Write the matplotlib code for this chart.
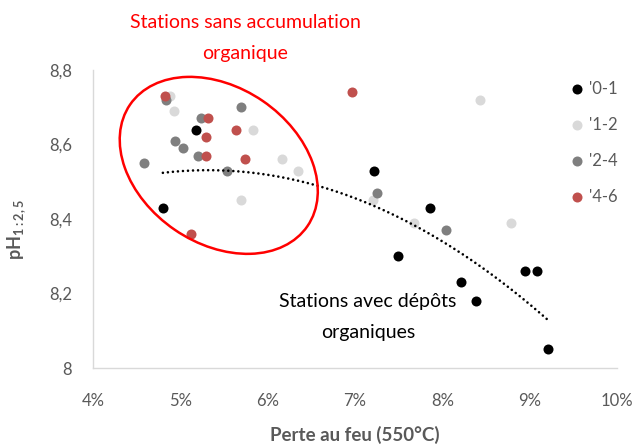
import matplotlib
matplotlib.use("Agg")
import matplotlib.pyplot as plt
import matplotlib.transforms as transforms
from matplotlib.patches import Ellipse
from matplotlib.ticker import FuncFormatter, MultipleLocator
import numpy as np

plt.rcParams["font.family"] = ["Lato", "DejaVu Sans"]
plt.rcParams["mathtext.fontset"] = "custom"
plt.rcParams["mathtext.rm"] = "Lato"
plt.rcParams["mathtext.bf"] = "Lato:bold"

# Perte au feu (%) et pH par classe de profondeur
x_01 = [5.18, 4.80, 7.22, 7.86, 7.49, 8.21, 8.38, 8.95, 9.08, 9.21]
y_01 = [8.64, 8.43, 8.53, 8.43, 8.30, 8.23, 8.18, 8.26, 8.26, 8.05]

x_12 = [4.88, 4.93, 5.83, 6.16, 6.35, 5.69, 8.43, 7.21, 7.68, 8.79]
y_12 = [8.73, 8.69, 8.64, 8.56, 8.53, 8.45, 8.72, 8.45, 8.39, 8.39]

x_24 = [4.84, 5.24, 5.70, 4.94, 5.03, 5.20, 4.58, 5.53, 7.25, 8.04]
y_24 = [8.72, 8.67, 8.70, 8.61, 8.59, 8.57, 8.55, 8.53, 8.47, 8.37]

x_46 = [4.82, 5.32, 5.64, 5.29, 5.29, 5.74, 5.12, 6.96]
y_46 = [8.73, 8.67, 8.64, 8.62, 8.57, 8.56, 8.36, 8.74]

series = [
    ("'0-1", x_01, y_01, "#000000"),
    ("'1-2", x_12, y_12, "#D9D9D9"),
    ("'2-4", x_24, y_24, "#7F7F7F"),
    ("'4-6", x_46, y_46, "#C0504D"),
]

fig = plt.figure(figsize=(6.37, 4.45), dpi=100)
ax = fig.add_axes([0.146, 0.173, 0.8226, 0.6697])

for label, xs, ys, color in series:
    ax.scatter(xs, ys, s=52, color=color, label=label, zorder=3, linewidths=0)

# polynomial trend (order 2) on the 0-1 series
coef = np.polyfit(x_01, y_01, 2)
xt = np.linspace(min(x_01), max(x_01), 200)
ax.plot(xt, np.polyval(coef, xt), color="black", lw=1.9,
        linestyle=(0, (0.01, 1.9)), dash_capstyle="round", zorder=4)

# ellipse around stations without organic accumulation (sized in inches)
ell_tr = fig.dpi_scale_trans + transforms.ScaledTranslation(5.44, 8.544, ax.transData)
ax.add_patch(Ellipse((0, 0), 2.15, 1.56, angle=-34.4, fill=False,
                     edgecolor="#FF0000", lw=1.8, transform=ell_tr, zorder=5))

ax.set_xlim(4, 10)
ax.set_ylim(8, 8.8)
ax.xaxis.set_major_locator(MultipleLocator(1))
ax.yaxis.set_major_locator(MultipleLocator(0.2))
ax.xaxis.set_major_formatter(FuncFormatter(lambda v, _: f"{v:.0f}%"))
ax.yaxis.set_major_formatter(
    FuncFormatter(lambda v, _: "8" if abs(v - 8) < 1e-9 else f"{v:.1f}".replace(".", ",")))

for side in ("top", "right"):
    ax.spines[side].set_visible(False)
for side in ("left", "bottom"):
    ax.spines[side].set_color("#D9D9D9")
    ax.spines[side].set_linewidth(1)
ax.tick_params(length=0, labelsize=12, colors="#595959", pad=18)
ax.tick_params(axis="y", pad=15)

ax.set_xlabel("Perte au feu (550°C)", fontsize=13.5, fontweight="bold",
              color="#595959", labelpad=12)
ax.set_ylabel(r"$\mathbf{pH}_{\mathbf{1:2,5}}$", fontsize=13, color="#595959")
ax.yaxis.set_label_coords(-0.124, 0.466)

fig.text(245 / 637, 1 - 38 / 445, "Stations sans accumulation\norganique",
         color="#FF0000", fontsize=14, ha="center", va="center", linespacing=2.0)
fig.text(368 / 637, 1 - 317 / 445, "Stations avec dépôts\norganiques",
         color="black", fontsize=14, ha="center", va="center", linespacing=2.0)

ax.legend(loc="upper left", bbox_to_anchor=(0.877, 0.837), bbox_transform=fig.transFigure,
          frameon=False, fontsize=12, labelcolor="#595959", handletextpad=0.1,
          labelspacing=1.2, borderpad=0, handlelength=1.2, scatterpoints=1)

fig.savefig("out.png", dpi=100)
